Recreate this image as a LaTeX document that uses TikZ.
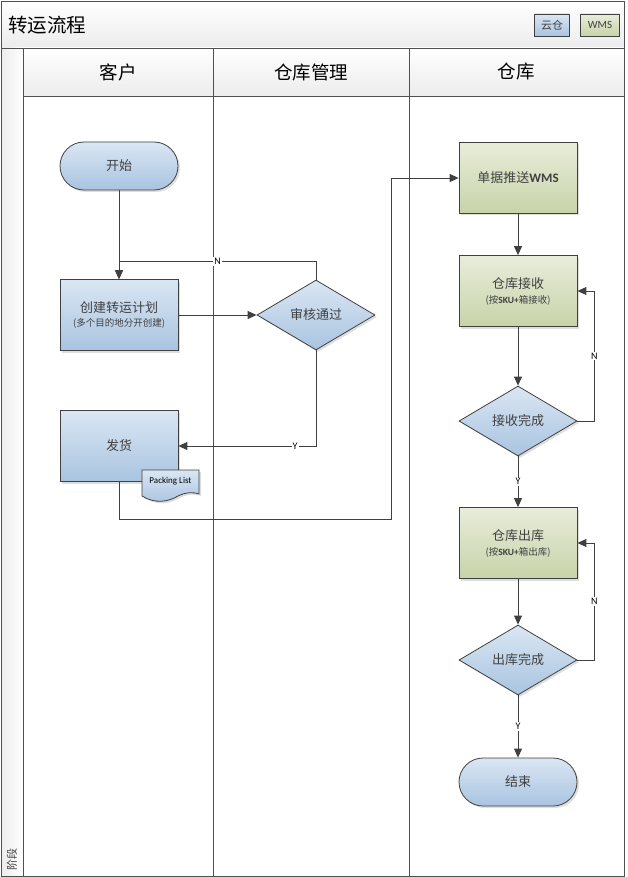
\documentclass[tikz,border=0pt]{standalone}
\usepackage{fontspec}
\setmainfont{Noto Sans CJK SC}
\newfontfamily\lat{Carlito}
\usetikzlibrary{shapes.geometric,arrows.meta,shadows}
\definecolor{ln}{HTML}{404040}
\definecolor{frm}{HTML}{505050}
\definecolor{btop}{HTML}{DAE6F3}
\definecolor{bbot}{HTML}{A9C4E0}
\definecolor{gtop}{HTML}{E8EDDA}
\definecolor{gbot}{HTML}{C7D3A9}
\definecolor{txt}{HTML}{404040}
\definecolor{band}{HTML}{ECECEC}
\newcommand\subfnt{\fontsize{9.5}{11}\selectfont}
\tikzset{
  base/.style={draw=ln, line width=0.8pt, text=txt, font=\fontsize{13}{16}\selectfont, align=center, inner sep=0pt,
    drop shadow={shadow xshift=2pt,shadow yshift=-2pt,fill=black,opacity=0.13}},
  bluebox/.style={base, rectangle, top color=btop, bottom color=bbot, minimum width=118pt, minimum height=71pt},
  greenbox/.style={base, rectangle, top color=gtop, bottom color=gbot, minimum width=118pt, minimum height=71pt},
  term/.style={base, rectangle, rounded corners=24pt, top color=btop, bottom color=bbot, minimum width=118pt, minimum height=48pt},
  dec/.style={base, diamond, aspect=1.686, top color=btop, bottom color=bbot, minimum width=118pt, minimum height=70pt},
  conn/.style={draw=ln, line width=0.9pt, -{Triangle[length=9pt,width=8pt]}},
  lbl/.style={fill=white, inner sep=1pt, font=\lat\fontsize{10}{11}\selectfont, text=black},
  hdr/.style={font=\fontsize{18.5}{20}\selectfont, text=black},
}
\begin{document}
\begin{tikzpicture}[x=1pt,y=1pt]
\useasboundingbox (0,0) rectangle (627,-877);
% title band
\shade[top color=white, bottom color=band] (1,-1) rectangle (624,-48);
% stage column
\shade[left color=band, right color=white] (1,-48) rectangle (23,-876);
% header row
\shade[top color=white, bottom color=band] (23,-48) rectangle (624,-96);
\draw[frm, line width=0.8pt] (1,-1) rectangle (624,-876);
\draw[frm, line width=0.8pt] (1,-48) -- (624,-48);
\draw[frm, line width=0.8pt] (23,-96) -- (624,-96);
\draw[frm, line width=0.8pt] (23,-48) -- (23,-876);
\draw[frm, line width=0.8pt] (213,-48) -- (213,-876);
\draw[frm, line width=0.8pt] (409,-48) -- (409,-876);

\node[anchor=west, font=\fontsize{19.5}{21}\selectfont, text=black, inner sep=0pt] (title) at (8,-25) {转运流程};
\node[draw=ln, line width=0.6pt, top color=btop, bottom color=bbot, minimum width=35pt, minimum height=22pt, inner sep=0pt, font=\fontsize{11}{12}\selectfont, text=txt] (lg1) at (552,-25) {云仓};
\node[draw=ln, line width=0.6pt, top color=gtop, bottom color=gbot, minimum width=39pt, minimum height=22pt, inner sep=0pt, font=\lat\fontsize{11}{12}\selectfont, text=txt] (lg2) at (600,-25) {WMS};

\node[hdr] (h1) at (118,-72) {客户};
\node[hdr] (h2) at (311,-72) {仓库管理};
\node[hdr] (h3) at (516,-72) {仓库};
\node[rotate=90, anchor=west, font=\fontsize{11}{12}\selectfont, text=txt, inner sep=0pt] (stage) at (12,-871) {阶段};

% nodes
\node[term] (start) at (119,-166) {开始};
\node[bluebox] (plan) at (119,-315) {创建转运计划\\[-2pt]{\subfnt (多个目的地分开创建)}};
\node[dec] (audit) at (316,-315) {审核通过};
\node[bluebox] (ship) at (119,-446) {发货};
\node[greenbox] (push) at (518,-178) {单据推送{\lat\bfseries WMS}};
\node[greenbox] (recv) at (518,-291) {仓库接收\\[-1pt]{\subfnt (按{\lat\bfseries SKU+}箱接收)}};
\node[dec] (recvok) at (518,-421) {接收完成};
\node[greenbox] (out) at (518,-543) {仓库出库\\[-1pt]{\subfnt (按{\lat\bfseries SKU+}箱出库)}};
\node[dec] (outok) at (518,-660) {出库完成};
\node[term] (end) at (518,-782) {结束};

% packing list document
\path[draw=ln, line width=0.8pt, top color=btop, bottom color=bbot,
  drop shadow={shadow xshift=2pt,shadow yshift=-2pt,fill=black,opacity=0.13}]
  (142,-470) -- (199,-470) -- (199,-494)
  .. controls (194,-492) and (186,-492) .. (178,-496)
  .. controls (168,-502) and (155,-504) .. (142,-496) -- cycle;
\node[font=\lat\fontsize{9}{10}\selectfont, text=black] (pl) at (170.5,-481) {Packing List};

% connectors
\coordinate (c1) at (391,-519);
\draw[conn] (start) -- (plan);
\draw[conn] (plan) -- (audit);
\draw[conn] (audit.north) -- ++(0,18) -| node[lbl, pos=0.25] {N} (plan.north);
\draw[conn] (audit.south) |- node[lbl, pos=0.576] {Y} (ship.east);
\draw[conn] (ship.south) |- (c1) |- (push.west);
\draw[conn] (push) -- (recv);
\draw[conn] (recv) -- (recvok);
\draw[conn] (recvok.east) -- ++(17,0) |- node[lbl, pos=0.25] {N} (recv.east);
\draw[conn] (recvok.south) -- node[lbl] {Y} (out.north);
\draw[conn] (out) -- (outok);
\draw[conn] (outok.east) -- ++(17,0) |- node[lbl, pos=0.25] {N} (out.east);
\draw[conn] (outok.south) -- node[lbl] {Y} (end.north);
\end{tikzpicture}
\end{document}
